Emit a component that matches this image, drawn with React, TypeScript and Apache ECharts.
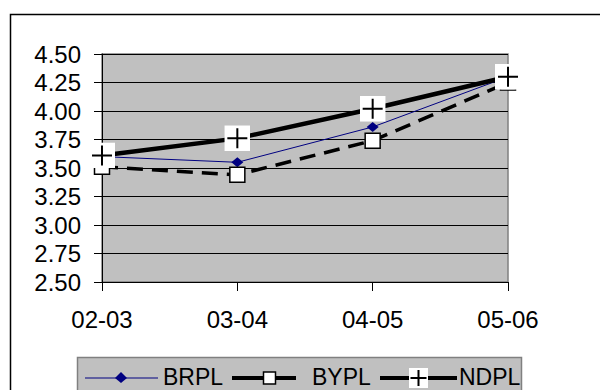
import React, { useEffect, useRef } from "react";
import * as echarts from "echarts";

// Tariff years and per-unit values for the three distribution companies
const years = ["02-03", "03-04", "04-05", "05-06"];
const seriesNames = ["BRPL", "BYPL", "NDPL"];
const brpl = [3.6, 3.55, 3.86, 4.3];
const bypl = [3.51, 3.44, 3.74, 4.25];
const ndpl = [3.61, 3.76, 4.02, 4.3];
const yMin = 2.5;
const yMax = 4.5;
const yStep = 0.25;

const FONT = "'Liberation Sans', Arial, sans-serif";

// White box with a black cross, used as the NDPL marker
function plusBox(w: number, h: number, arm: number): string {
  const cx = w / 2;
  const cy = h / 2;
  const svg =
    `<svg xmlns="http://www.w3.org/2000/svg" width="${w}" height="${h}" viewBox="0 0 ${w} ${h}">` +
    `<rect width="${w}" height="${h}" fill="#ffffff"/>` +
    `<path d="M${cx} ${cy - arm}V${cy + arm}M${cx - arm} ${cy}H${cx + arm}" stroke="#000000" stroke-width="2" fill="none"/>` +
    `</svg>`;
  return "data:image/svg+xml;charset=utf-8," + encodeURIComponent(svg);
}

const ndplMarker = plusBox(26, 26, 10);
const ndplLegendMarker = plusBox(19, 20, 8);

export default function App() {
  const ref = useRef<HTMLDivElement>(null);

  useEffect(() => {
    if (!ref.current) return;
    const chart = echarts.init(ref.current, null, { renderer: "svg" });

    const legendY = 377;
    const legendFont = `23px ${FONT}`;
    const legendGraphics: any[] = [
      {
        type: "rect",
        shape: { x: 77.5, y: 357.5, width: 444, height: 60 },
        style: { fill: "#c0c0c0", stroke: "#808080", lineWidth: 1.5 },
        z: 1,
      },
      // BRPL key
      {
        type: "line",
        shape: { x1: 85, y1: legendY + 1, x2: 158, y2: legendY + 1 },
        style: { stroke: "#000080", lineWidth: 1 },
        z: 2,
      },
      {
        type: "polygon",
        shape: {
          points: [
            [121, legendY - 5],
            [127, legendY + 1],
            [121, legendY + 6],
            [115, legendY + 1],
          ],
        },
        style: { fill: "#000080" },
        z: 3,
      },
      {
        type: "text",
        x: 163,
        y: legendY,
        style: { text: seriesNames[0], font: legendFont, fill: "#000", verticalAlign: "middle" },
        z: 3,
      },
      // BYPL key
      {
        type: "line",
        shape: { x1: 232, y1: legendY + 1, x2: 296, y2: legendY + 1 },
        style: { stroke: "#000", lineWidth: 4 },
        z: 2,
      },
      {
        type: "rect",
        shape: { x: 263.5, y: legendY - 5, width: 12, height: 12 },
        style: { fill: "#fff", stroke: "#000", lineWidth: 1.5 },
        z: 3,
      },
      {
        type: "text",
        x: 312,
        y: legendY,
        style: { text: seriesNames[1], font: legendFont, fill: "#000", verticalAlign: "middle" },
        z: 3,
      },
      // NDPL key
      {
        type: "line",
        shape: { x1: 380, y1: legendY + 1, x2: 457, y2: legendY + 1 },
        style: { stroke: "#000", lineWidth: 4 },
        z: 2,
      },
      {
        type: "image",
        x: 409,
        y: legendY - 9,
        style: { image: ndplLegendMarker, width: 19, height: 20 },
        z: 3,
      },
      {
        type: "text",
        x: 459,
        y: legendY,
        style: { text: seriesNames[2], font: legendFont, fill: "#000", verticalAlign: "middle" },
        z: 3,
      },
    ];

    chart.setOption({
      animation: false,
      backgroundColor: "#ffffff",
      grid: {
        left: 102,
        right: 92,
        top: 54,
        bottom: 108,
        show: true,
        backgroundColor: "#c0c0c0",
        borderColor: "#808080",
        borderWidth: 1.5,
      },
      xAxis: {
        type: "category",
        data: years,
        boundaryGap: false,
        axisLine: { show: true, lineStyle: { color: "#000", width: 1 } },
        axisTick: { show: true, length: 9, lineStyle: { color: "#000" } },
        axisLabel: { color: "#000", fontSize: 24, fontFamily: FONT, margin: 25 },
        splitLine: { show: false },
      },
      yAxis: {
        type: "value",
        min: yMin,
        max: yMax,
        interval: yStep,
        axisLine: { show: true, lineStyle: { color: "#000", width: 1 } },
        axisTick: { show: true, length: 8, lineStyle: { color: "#000" } },
        axisLabel: {
          color: "#000",
          fontSize: 24,
          fontFamily: FONT,
          margin: 21,
          formatter: (v: number) => v.toFixed(2),
        },
        splitLine: { show: true, lineStyle: { color: "#000", width: 1 } },
      },
      series: [
        {
          name: seriesNames[0],
          type: "line",
          data: brpl,
          symbol: "diamond",
          symbolSize: [12, 10],
          lineStyle: { color: "#000080", width: 1 },
          itemStyle: { color: "#000080" },
          z: 2,
        },
        {
          name: seriesNames[1],
          type: "line",
          data: bypl,
          symbol: "rect",
          symbolSize: 15,
          lineStyle: { color: "#000", width: 3.5, type: [16, 9] },
          itemStyle: { color: "#fff", borderColor: "#000", borderWidth: 1.5 },
          z: 3,
        },
        {
          name: seriesNames[2],
          type: "line",
          data: ndpl,
          symbol: "image://" + ndplMarker,
          symbolSize: 26,
          lineStyle: { color: "#000", width: 4.5 },
          itemStyle: { color: "#000" },
          z: 4,
        },
      ],
      graphic: [
        {
          type: "rect",
          shape: { x: 10.5, y: 14.5, width: 700, height: 500 },
          style: { fill: "none", stroke: "#000", lineWidth: 1.5 },
          z: 0,
          silent: true,
        },
        ...legendGraphics,
      ],
    });

    return () => chart.dispose();
  }, []);

  return (
    <div
      ref={ref}
      style={{ position: "absolute", left: 0, top: 0, width: 600, height: 390 }}
    />
  );
}
